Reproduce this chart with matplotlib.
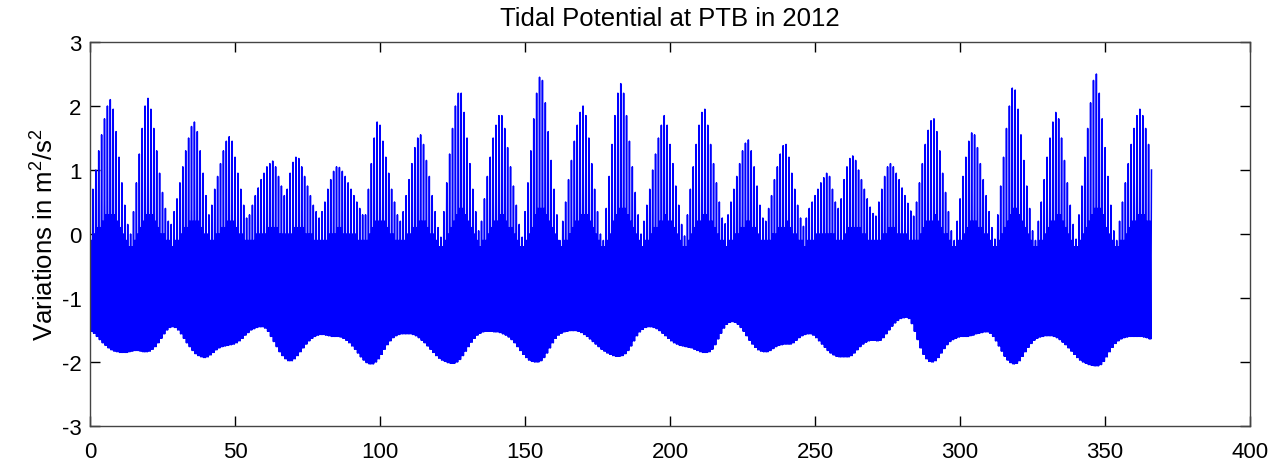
import matplotlib
matplotlib.use("Agg")
import matplotlib.pyplot as plt
import numpy as np

plt.rcParams['font.family'] = ['Liberation Sans', 'DejaVu Sans']
plt.rcParams['mathtext.fontset'] = 'custom'
plt.rcParams['mathtext.rm'] = 'Liberation Sans'
plt.rcParams['mathtext.it'] = 'Liberation Sans'
plt.rcParams['axes.unicode_minus'] = False

# daily readings (day 0 .. 366), in m^2/s^2
# higher high of each day (top envelope)
higher_high = [
    0.4, 0.7, 1.0, 1.3, 1.55, 1.8, 2.0, 2.1, 1.95, 1.6,
    1.2, 0.8, 0.45, 0.15, 0.0, 0.35, 0.8, 1.25, 1.65, 2.0,
    2.12, 1.95, 1.65, 1.3, 0.95, 0.65, 0.4, 0.2, 0.15, 0.35,
    0.55, 0.8, 1.05, 1.3, 1.5, 1.68, 1.75, 1.6, 1.3, 0.95,
    0.6, 0.3, 0.45, 0.7, 0.9, 1.1, 1.3, 1.45, 1.52, 1.45,
    1.2, 0.95, 0.7, 0.45, 0.25, 0.3, 0.45, 0.6, 0.72, 0.85,
    0.95, 1.05, 1.1, 1.14, 1.05, 0.9, 0.75, 0.6, 0.7, 0.95,
    1.12, 1.2, 1.18, 1.05, 0.9, 0.75, 0.6, 0.45, 0.35, 0.25,
    0.35, 0.5, 0.7, 0.85, 0.98, 1.05, 1.04, 0.98, 0.9, 0.8,
    0.7, 0.6, 0.5, 0.4, 0.3, 0.3, 0.7, 1.1, 1.5, 1.75,
    1.7, 1.45, 1.2, 0.95, 0.7, 0.5, 0.3, 0.2, 0.35, 0.6,
    0.85, 1.1, 1.35, 1.5, 1.55, 1.4, 1.15, 0.9, 0.6, 0.35,
    0.1, -0.05, 0.35, 0.8, 1.25, 1.65, 2.0, 2.2, 2.2, 1.9,
    1.5, 1.1, 0.7, 0.35, 0.05, 0.2, 0.55, 0.9, 1.2, 1.5,
    1.7, 1.85, 1.85, 1.65, 1.35, 1.05, 0.75, 0.45, 0.15, -0.05,
    0.35, 0.8, 1.3, 1.8, 2.2, 2.45, 2.4, 2.05, 1.6, 1.15,
    0.7, 0.3, -0.1, 0.2, 0.5, 0.85, 1.15, 1.45, 1.7, 1.9,
    2.0, 1.85, 1.5, 1.1, 0.7, 0.35, 0.0, -0.1, 0.4, 0.9,
    1.4, 1.85, 2.2, 2.35, 2.2, 1.85, 1.45, 1.05, 0.65, 0.3,
    0.0, 0.2, 0.45, 0.7, 1.0, 1.25, 1.5, 1.7, 1.85, 1.7,
    1.4, 1.1, 0.75, 0.45, 0.15, -0.03, 0.3, 0.7, 1.05, 1.4,
    1.7, 1.9, 1.95, 1.7, 1.4, 1.1, 0.8, 0.5, 0.25, 0.16,
    0.3, 0.5, 0.7, 0.9, 1.1, 1.3, 1.42, 1.47, 1.3, 1.05,
    0.75, 0.45, 0.25, 0.2, 0.4, 0.6, 0.85, 1.05, 1.25, 1.38,
    1.4, 1.2, 0.95, 0.7, 0.45, 0.25, 0.12, 0.25, 0.4, 0.5,
    0.6, 0.7, 0.8, 0.88, 0.95, 0.9, 0.7, 0.5, 0.4, 0.55,
    0.85, 1.05, 1.18, 1.22, 1.15, 1.0, 0.85, 0.7, 0.55, 0.42,
    0.32, 0.28, 0.5, 0.7, 0.9, 1.05, 1.1, 1.05, 0.95, 0.85,
    0.72, 0.6, 0.48, 0.36, 0.28, 0.5, 0.8, 1.1, 1.4, 1.62,
    1.77, 1.8, 1.6, 1.3, 0.95, 0.65, 0.35, 0.05, -0.1, 0.2,
    0.55, 0.9, 1.2, 1.45, 1.58, 1.55, 1.35, 1.1, 0.85, 0.6,
    0.35, 0.1, -0.08, 0.3, 0.75, 1.2, 1.65, 2.0, 2.28, 2.25,
    1.95, 1.55, 1.15, 0.75, 0.4, 0.05, -0.1, 0.2, 0.5, 0.85,
    1.2, 1.5, 1.75, 1.9, 1.8, 1.5, 1.15, 0.8, 0.45, 0.15,
    -0.08, 0.3, 0.75, 1.2, 1.65, 2.05, 2.4, 2.5, 2.2, 1.8,
    1.35, 0.9, 0.45, 0.05, -0.1, 0.2, 0.5, 0.8, 1.1, 1.4,
    1.65, 1.85, 1.95, 1.85, 1.65, 1.4, 1.0,
]

# lowest value of each day (bottom envelope)
lower_low = [
    -1.52, -1.55, -1.6, -1.65, -1.7, -1.74, -1.78, -1.81, -1.83, -1.84,
    -1.85, -1.85, -1.85, -1.84, -1.83, -1.82, -1.82, -1.83, -1.84, -1.84,
    -1.83, -1.8, -1.76, -1.7, -1.63, -1.56, -1.5, -1.46, -1.45, -1.46,
    -1.5, -1.56, -1.63, -1.7, -1.76, -1.82, -1.87, -1.9, -1.92, -1.93,
    -1.92, -1.89, -1.85, -1.81, -1.78, -1.76, -1.75, -1.74, -1.73, -1.72,
    -1.7, -1.67, -1.63, -1.58, -1.54, -1.5, -1.48, -1.46, -1.45, -1.45,
    -1.47, -1.52, -1.6, -1.68, -1.76, -1.84, -1.9, -1.95, -1.98, -1.98,
    -1.95, -1.9, -1.84, -1.78, -1.72, -1.67, -1.63, -1.6, -1.58, -1.57,
    -1.57, -1.58, -1.59, -1.6, -1.6, -1.6, -1.61, -1.63, -1.66, -1.7,
    -1.75, -1.8, -1.86, -1.92, -1.97, -2.01, -2.03, -2.03, -2.0, -1.95,
    -1.88, -1.8, -1.73, -1.67, -1.62, -1.59, -1.57, -1.56, -1.56, -1.56,
    -1.56, -1.57, -1.59, -1.62, -1.66, -1.7, -1.75, -1.8, -1.85, -1.9,
    -1.94, -1.97, -1.99, -2.01, -2.02, -2.02, -2.0, -1.96, -1.9, -1.83,
    -1.76, -1.69, -1.63, -1.58, -1.55, -1.53, -1.52, -1.52, -1.52, -1.53,
    -1.53, -1.54, -1.56, -1.58, -1.61, -1.65, -1.7, -1.76, -1.82, -1.88,
    -1.93, -1.97, -1.99, -2.0, -2.0, -1.98, -1.93, -1.86, -1.78, -1.7,
    -1.63, -1.58, -1.55, -1.53, -1.52, -1.51, -1.51, -1.51, -1.52, -1.54,
    -1.57, -1.6, -1.64, -1.68, -1.72, -1.76, -1.8, -1.83, -1.86, -1.88,
    -1.9, -1.91, -1.91, -1.9, -1.87, -1.82, -1.75, -1.67, -1.59, -1.53,
    -1.49, -1.46, -1.45, -1.45, -1.46, -1.48, -1.51, -1.55, -1.59, -1.63,
    -1.67, -1.7, -1.72, -1.74, -1.75, -1.76, -1.77, -1.78, -1.8, -1.82,
    -1.84, -1.85, -1.85, -1.84, -1.8, -1.73, -1.64, -1.55, -1.47, -1.41,
    -1.38, -1.37, -1.38, -1.41, -1.46, -1.52, -1.59, -1.66, -1.72, -1.77,
    -1.81, -1.83, -1.84, -1.84, -1.82, -1.79, -1.76, -1.74, -1.73, -1.72,
    -1.72, -1.72, -1.7, -1.66, -1.62, -1.59, -1.57, -1.56, -1.56, -1.58,
    -1.62, -1.67, -1.72, -1.77, -1.82, -1.86, -1.89, -1.91, -1.92, -1.92,
    -1.92, -1.92, -1.9, -1.86, -1.81, -1.76, -1.72, -1.69, -1.67, -1.66,
    -1.66, -1.67, -1.66, -1.62, -1.56, -1.5, -1.44, -1.39, -1.35, -1.32,
    -1.31, -1.3, -1.32, -1.4, -1.52, -1.65, -1.78, -1.88, -1.95, -1.99,
    -2.0, -1.98, -1.93, -1.86, -1.79, -1.73, -1.68, -1.65, -1.63, -1.61,
    -1.6, -1.6, -1.6, -1.59, -1.58, -1.56, -1.55, -1.54, -1.53, -1.53,
    -1.55, -1.6, -1.67, -1.75, -1.83, -1.91, -1.97, -2.01, -2.03, -2.02,
    -1.98, -1.91, -1.84, -1.77, -1.71, -1.66, -1.63, -1.61, -1.6, -1.59,
    -1.59, -1.59, -1.6, -1.62, -1.65, -1.69, -1.73, -1.78, -1.83, -1.88,
    -1.93, -1.97, -2.0, -2.02, -2.04, -2.05, -2.06, -2.06, -2.04, -1.99,
    -1.92, -1.84, -1.77, -1.71, -1.67, -1.64, -1.62, -1.61, -1.6, -1.6,
    -1.6, -1.6, -1.6, -1.61, -1.62, -1.64, -1.65,
]

# lower high of each day (top of the dense band)
lower_high = [
    -0.1, 0.0, 0.1, 0.1, 0.2, 0.3, 0.3, 0.3, 0.3, 0.2,
    0.1, 0.0, -0.1, -0.2, -0.2, -0.1, 0.0, 0.1, 0.2, 0.3,
    0.3, 0.3, 0.2, 0.1, 0.0, 0.0, -0.1, -0.1, -0.2, -0.1,
    -0.1, 0.0, 0.1, 0.1, 0.2, 0.2, 0.2, 0.2, 0.1, 0.0,
    0.0, -0.1, -0.1, 0.0, 0.0, 0.1, 0.1, 0.2, 0.2, 0.2,
    0.1, 0.0, 0.0, -0.1, -0.1, -0.1, -0.1, 0.0, 0.0, 0.0,
    0.0, 0.1, 0.1, 0.1, 0.1, 0.0, 0.0, 0.0, 0.0, 0.0,
    0.1, 0.1, 0.1, 0.1, 0.0, 0.0, 0.0, -0.1, -0.1, -0.1,
    -0.1, -0.1, 0.0, 0.0, 0.0, 0.1, 0.1, 0.0, 0.0, 0.0,
    0.0, 0.0, -0.1, -0.1, -0.1, -0.1, 0.0, 0.1, 0.2, 0.2,
    0.2, 0.2, 0.1, 0.0, 0.0, -0.1, -0.1, -0.1, -0.1, 0.0,
    0.0, 0.1, 0.1, 0.2, 0.2, 0.2, 0.1, 0.0, 0.0, -0.1,
    -0.2, -0.2, -0.1, 0.0, 0.1, 0.2, 0.3, 0.4, 0.4, 0.3,
    0.2, 0.1, 0.0, -0.1, -0.2, -0.1, -0.1, 0.0, 0.1, 0.2,
    0.2, 0.3, 0.3, 0.2, 0.1, 0.1, 0.0, -0.1, -0.2, -0.2,
    -0.1, 0.0, 0.1, 0.3, 0.4, 0.4, 0.4, 0.3, 0.2, 0.1,
    0.0, -0.1, -0.2, -0.1, -0.1, 0.0, 0.1, 0.2, 0.2, 0.3,
    0.3, 0.3, 0.2, 0.1, 0.0, -0.1, -0.2, -0.2, -0.1, 0.0,
    0.2, 0.3, 0.4, 0.4, 0.4, 0.3, 0.2, 0.1, 0.0, -0.1,
    -0.2, -0.1, -0.1, 0.0, 0.1, 0.1, 0.2, 0.2, 0.3, 0.2,
    0.2, 0.1, 0.0, -0.1, -0.2, -0.2, -0.1, 0.0, 0.1, 0.2,
    0.2, 0.3, 0.3, 0.2, 0.2, 0.1, 0.0, -0.1, -0.1, -0.2,
    -0.1, -0.1, 0.0, 0.0, 0.1, 0.1, 0.2, 0.2, 0.1, 0.1,
    0.0, -0.1, -0.1, -0.1, -0.1, 0.0, 0.0, 0.1, 0.1, 0.1,
    0.2, 0.1, 0.0, 0.0, -0.1, -0.1, -0.2, -0.1, -0.1, -0.1,
    0.0, 0.0, 0.0, 0.0, 0.0, 0.0, 0.0, -0.1, -0.1, -0.1,
    0.0, 0.1, 0.1, 0.1, 0.1, 0.1, 0.0, 0.0, -0.1, -0.1,
    -0.1, -0.1, -0.1, 0.0, 0.0, 0.1, 0.1, 0.1, 0.0, 0.0,
    0.0, 0.0, -0.1, -0.1, -0.1, -0.1, 0.0, 0.1, 0.2, 0.2,
    0.2, 0.3, 0.2, 0.1, 0.0, 0.0, -0.1, -0.2, -0.2, -0.1,
    -0.1, 0.0, 0.1, 0.2, 0.2, 0.2, 0.1, 0.1, 0.0, 0.0,
    -0.1, -0.2, -0.2, -0.1, 0.0, 0.1, 0.2, 0.3, 0.4, 0.4,
    0.3, 0.2, 0.1, 0.0, -0.1, -0.2, -0.2, -0.1, -0.1, 0.0,
    0.1, 0.2, 0.2, 0.3, 0.3, 0.2, 0.1, 0.0, -0.1, -0.2,
    -0.2, -0.1, 0.0, 0.1, 0.2, 0.3, 0.4, 0.4, 0.4, 0.3,
    0.1, 0.0, -0.1, -0.2, -0.2, -0.1, -0.1, 0.0, 0.1, 0.2,
    0.2, 0.3, 0.3, 0.3, 0.2, 0.2, 0.1,
]

title = 'Tidal Potential at PTB in 2012'
ylabel = 'Variations in m$^2$/s$^2$'


def daily_trace(hh, ll, lh):
    """One day = higher high, low, lower high, low; ends on the last high."""
    n = min(len(hh), len(ll), len(lh))
    hh, ll, lh = np.asarray(hh[:n]), np.asarray(ll[:n]), np.asarray(lh[:n])
    days = np.arange(n)
    t = np.column_stack([days, days + 0.25, days + 0.5, days + 0.75])[:-1].ravel()
    v = np.column_stack([hh, ll, lh, ll])[:-1].ravel()
    return np.append(t, days[-1]), np.append(v, hh[-1])


def main():
    t, v = daily_trace(higher_high, lower_low, lower_high)

    fig = plt.figure(figsize=(12.73, 4.64), dpi=100)
    ax = fig.add_axes([0.0707, 0.0797, 0.9113, 0.8276])
    ax.plot(t, v, color='#0000ff', linewidth=1.1)

    ax.set_xlim(0, 400)
    ax.set_ylim(-3, 3)
    ax.set_xticks(np.arange(0, 401, 50))
    ax.set_yticks(np.arange(-3, 4, 1))
    ax.tick_params(direction='in', length=7, width=1, top=True, right=True,
                   labelsize=16, colors='black')
    ax.tick_params(axis='x', pad=11)
    ax.tick_params(axis='y', pad=6)
    for s in ax.spines.values():
        s.set_color('#444444')
        s.set_linewidth(1)

    ax.set_title(title, fontsize=18.5, pad=12)
    ax.set_ylabel(ylabel, fontsize=18.5, labelpad=2)

    fig.savefig('out.png', dpi=100)


if __name__ == "__main__":
    main()
